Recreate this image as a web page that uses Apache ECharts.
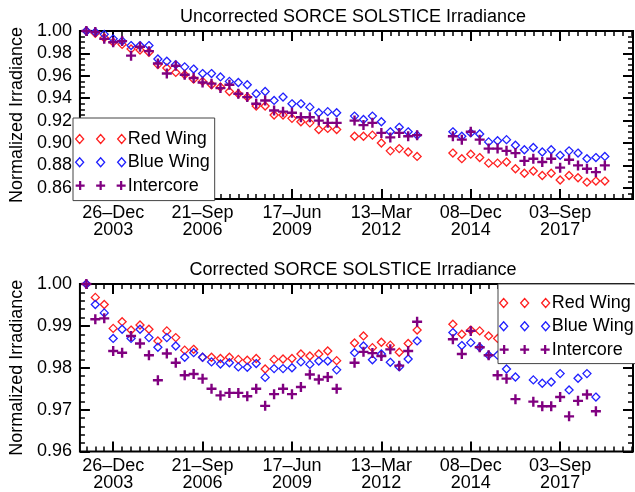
<!DOCTYPE html>
<html><head><meta charset="utf-8">
<script src="https://cdn.jsdelivr.net/npm/echarts@6/dist/echarts.min.js"></script>
<style>html,body{margin:0;padding:0;background:#fff}#c{width:635px;height:492px}</style>
</head><body><div id="c"></div>
<script>
// x values are Julian days minus 2450000
const tickDays = [3000, 4000, 5000, 6000, 7000, 8000];
const tickLabels = ['26\u2013Dec\n2003', '21\u2013Sep\n2006', '17\u2013Jun\n2009', '13\u2013Mar\n2012', '08\u2013Dec\n2014', '03\u2013Sep\n2017'];
const yTicksTop = [0.86, 0.88, 0.90, 0.92, 0.94, 0.96, 0.98, 1.00];
const yTicksBottom = [0.96, 0.97, 0.98, 0.99, 1.00];
const seriesNames = ['Red Wing', 'Blue Wing', 'Intercore'];

const topDays = [2700,2800,2900,3000,3100,3200,3300,3400,3500,3600,3700,3800,3900,4000,4100,4200,4300,4400,4500,4600,4700,4800,4900,5000,5100,5200,5300,5400,5500,
  5700,5800,5900,6000,6100,6200,6300,6400,
  6800,6900,7000,7100,7200,7300,7400,7500,7600,7700,7800,7900,8000,8100,8200,8300,8400,8500];
const topRed = [1.000,0.998,0.994,0.990,0.988,0.984,0.983,0.981,0.970,0.967,0.963,0.961,0.957,0.955,0.952,0.950,0.946,0.944,0.941,0.933,0.933,0.925,0.925,0.922,0.919,0.918,0.912,0.913,0.912,
  0.906,0.906,0.907,0.900,0.893,0.895,0.892,0.888,
  0.891,0.886,0.890,0.887,0.882,0.882,0.883,0.877,0.873,0.875,0.871,0.873,0.867,0.871,0.869,0.865,0.866,0.866];
const topBlue = [1.000,0.999,0.997,0.993,0.991,0.987,0.987,0.987,0.975,0.973,0.970,0.968,0.966,0.962,0.962,0.959,0.955,0.954,0.952,0.944,0.946,0.938,0.941,0.935,0.935,0.932,0.927,0.928,0.927,
  0.924,0.921,0.924,0.919,0.910,0.914,0.910,0.907,
  0.910,0.906,0.909,0.908,0.901,0.902,0.903,0.898,0.894,0.896,0.892,0.894,0.889,0.893,0.891,0.886,0.887,0.888];
const topIntercore = [1.000,0.999,0.993,0.990,0.991,0.978,0.986,0.982,0.971,0.962,0.969,0.961,0.958,0.954,0.953,0.949,0.952,0.944,0.941,0.935,0.938,0.929,0.928,0.927,0.923,0.923,0.920,0.918,0.918,
  0.920,0.916,0.918,0.909,0.905,0.909,0.906,0.907,
  0.906,0.903,0.910,0.903,0.895,0.895,0.893,0.891,0.884,0.886,0.883,0.886,0.878,0.885,0.880,0.877,0.874,0.880];

const bottomDays = [2700,2800,2900,3000,3100,3200,3300,3400,3500,3600,3700,3800,3900,4000,4100,4200,4300,4400,4500,4600,4700,4800,4900,5000,5100,5200,5300,5400,5500,
  5700,5800,5900,6000,6100,6200,6300,6400,
  6800,6900,7000,7100,7200,7300,7400,7500,
  7700,7800,7900,8000,8100,8200,8300,8400];
const bottomRed = [1.000,0.9968,0.9951,0.9894,0.9910,0.9890,0.9902,0.9892,0.9864,0.9888,0.9872,0.9842,0.9844,0.9825,0.9825,0.9822,0.9825,0.9820,0.9818,0.9822,0.9797,0.9820,0.9821,0.9822,0.9833,0.9828,0.9833,0.9840,0.9817,
  0.9859,0.9876,0.9848,0.9861,0.9854,0.9837,0.9858,0.9890,
  0.9904,0.9880,0.9890,0.9888,0.9876,0.9870,0.9862,0.9855,
  0.9850,0.9845,0.9848,0.9858,0.9836,0.9850,0.9858,0.9832];
const bottomBlue = [1.000,0.9951,0.9931,0.9870,0.9892,0.9870,0.9892,0.9872,0.9849,0.9872,0.9852,0.9825,0.9836,0.9825,0.9814,0.9809,0.9812,0.9802,0.9801,0.9810,0.9777,0.9798,0.9798,0.9800,0.9814,0.9808,0.9816,0.9816,0.9795,
  0.9836,0.9852,0.9819,0.9833,0.9813,0.9802,0.9821,0.9864,
  0.9884,0.9853,0.9860,0.9849,0.9830,0.9830,0.9797,0.9778,
  0.9771,0.9763,0.9766,0.9786,0.9747,0.9775,0.9786,0.9730];
const bottomIntercore = [1.000,0.9916,0.9918,0.9840,0.9836,0.9876,0.9858,0.9830,0.9770,0.9834,0.9812,0.9782,0.9785,0.9774,0.9750,0.9734,0.9740,0.9740,0.9732,0.9750,0.9709,0.9737,0.9750,0.9737,0.9754,0.9784,0.9772,0.9778,0.9750,
  0.9812,0.9838,0.9835,0.9828,0.9844,0.9805,0.9840,0.9910,
  0.9868,0.9833,0.9888,0.9849,0.9830,0.9782,0.9774,0.9725,
  0.9719,0.9708,0.9708,0.9730,0.9684,0.9721,0.9736,0.9696];

const FONT = '"Liberation Sans", Arial, Helvetica, sans-serif';
const RED = '#ff2020', BLUE = '#2020ff', PURPLE = '#800080';
const PLUS = 'path://M3.8,0H6.2V3.8H10V6.2H6.2V10H3.8V6.2H0V3.8H3.8Z';
const ICON_DIAMONDS = 'path://M0,4.5L4,0L8,4.5L4,9Z M21,4.5L25,0L29,4.5L25,9Z M42,4.5L46,0L50,4.5L46,9Z';
const ICON_PLUSES = 'path://M3.4,0H5.6V3.4H9V5.6H5.6V9H3.4V5.6H0V3.4H3.4Z M23.9,0H26.1V3.4H29.5V5.6H26.1V9H23.9V5.6H20.5V3.4H23.9Z M44.4,0H46.6V3.4H50V5.6H46.6V9H44.4V5.6H41V3.4H44.4Z';
const XMIN = 2628, XMAX = 8815;

function seq(a, b, s) { const r = []; const n = Math.round((b - a) / s); for (let k = 0; k <= n; k++) r.push(+(a + k * s).toFixed(4)); return r; }
const xMinor = seq(2700, 8800, 100);

const grids = [
  {left: 73, top: 31, width: 560, height: 168, show: true, borderColor: '#000', borderWidth: 2, backgroundColor: 'transparent'},
  {left: 73, top: 284, width: 560, height: 168, show: true, borderColor: '#000', borderWidth: 2, backgroundColor: 'transparent'}
];

function xAxes(g) {
  const base = {gridIndex: g, type: 'value', min: XMIN, max: XMAX, axisLine: {show: false}, splitLine: {show: false}};
  const major = {show: true, inside: true, length: 10, customValues: tickDays, lineStyle: {color: '#000', width: 2}};
  const minor = {show: true, inside: true, length: 5, customValues: xMinor, lineStyle: {color: '#000', width: 1.5}};
  return [
    Object.assign({}, base, {position: 'bottom', axisTick: major, axisLabel: {show: true, customValues: tickDays,
      formatter: v => tickLabels[Math.round((v - 3000) / 1000)], fontSize: 18, color: '#000', fontFamily: FONT, lineHeight: 17, margin: 6}}),
    Object.assign({}, base, {position: 'bottom', axisTick: minor, axisLabel: {show: false}}),
    Object.assign({}, base, {position: 'top', axisTick: major, axisLabel: {show: false}}),
    Object.assign({}, base, {position: 'top', axisTick: minor, axisLabel: {show: false}})
  ];
}
function yAxes(g, ymin, ymax, majors, minorStep) {
  const base = {gridIndex: g, type: 'value', min: ymin, max: ymax, axisLine: {show: false}, splitLine: {show: false}};
  const major = {show: true, inside: true, length: 10, customValues: majors, lineStyle: {color: '#000', width: 2}};
  const minor = {show: true, inside: true, length: 5, customValues: seq(ymin, ymax, minorStep), lineStyle: {color: '#000', width: 1.5}};
  return [
    Object.assign({}, base, {position: 'left', axisTick: major,
      name: 'Normalized Irradiance', nameLocation: 'middle', nameGap: 50,
      nameTextStyle: {fontSize: 18, color: '#000', fontFamily: FONT},
      axisLabel: {show: true, customValues: majors, formatter: v => v.toFixed(2), fontSize: 18, color: '#000', fontFamily: FONT, margin: 8}}),
    Object.assign({}, base, {position: 'left', axisTick: minor, axisLabel: {show: false}}),
    Object.assign({}, base, {position: 'right', axisTick: major, axisLabel: {show: false}}),
    Object.assign({}, base, {position: 'right', axisTick: minor, axisLabel: {show: false}})
  ];
}

function diamondSeries(name, days, vals, color, ax) {
  return {type: 'scatter', name, xAxisIndex: ax, yAxisIndex: ax, data: days.map((d, i) => [d, vals[i]]),
    symbol: 'diamond', symbolSize: [8, 8], itemStyle: {color: 'rgba(0,0,0,0)', borderColor: color, borderWidth: 1.3, opacity: 1},
    emphasis: {disabled: true}, silent: true, z: 2};
}
function plusSeries(name, days, vals, ax) {
  return {type: 'scatter', name, xAxisIndex: ax, yAxisIndex: ax, data: days.map((d, i) => [d, vals[i]]),
    symbol: PLUS, symbolSize: 10, itemStyle: {color: PURPLE, borderWidth: 0, opacity: 1},
    emphasis: {disabled: true}, silent: true, z: 3};
}

const legendData = [
  {name: seriesNames[0], icon: ICON_DIAMONDS, itemStyle: {color: 'rgba(0,0,0,0)', borderColor: RED, borderWidth: 1.3, opacity: 1}},
  {name: seriesNames[1], icon: ICON_DIAMONDS, itemStyle: {color: 'rgba(0,0,0,0)', borderColor: BLUE, borderWidth: 1.3, opacity: 1}},
  {name: seriesNames[2], icon: ICON_PLUSES, itemStyle: {color: PURPLE, borderWidth: 0, opacity: 1}}
];
function legend(left, top, pad) {
  return {left, top, orient: 'vertical', padding: pad, itemGap: 5.3, itemWidth: 50, itemHeight: 9,
    backgroundColor: '#fff', borderColor: '#444', borderWidth: 1, selectedMode: false, z: 10,
    textStyle: {fontSize: 18, color: '#000', fontFamily: FONT, lineHeight: 18, padding: [0, 0, 0, -3]},
    data: legendData};
}

const chart = echarts.init(document.getElementById('c'), null, {renderer: 'canvas'});
chart.setOption({
  animation: false,
  backgroundColor: '#fff',
  title: [
    {text: 'Uncorrected SORCE SOLSTICE Irradiance', left: 353, top: 8, textAlign: 'center', padding: 0,
      textStyle: {fontSize: 18, fontWeight: 'normal', color: '#000', fontFamily: FONT}},
    {text: 'Corrected SORCE SOLSTICE Irradiance', left: 353, top: 261, textAlign: 'center', padding: 0,
      textStyle: {fontSize: 18, fontWeight: 'normal', color: '#000', fontFamily: FONT}}
  ],
  grid: grids,
  xAxis: xAxes(0).concat(xAxes(1)),
  yAxis: yAxes(0, 0.85, 1.00, yTicksTop, 0.005).concat(yAxes(1, 0.96, 1.00, yTicksBottom, 0.002)),
  legend: [legend(73, 118, [12, 5, 6, 2]), legend(498, 284, [10, 5, 5, 1])],
  series: [
    diamondSeries(seriesNames[0], topDays, topRed, RED, 0),
    diamondSeries(seriesNames[1], topDays, topBlue, BLUE, 0),
    plusSeries(seriesNames[2], topDays, topIntercore, 0),
    diamondSeries(seriesNames[0], bottomDays, bottomRed, RED, 4),
    diamondSeries(seriesNames[1], bottomDays, bottomBlue, BLUE, 4),
    plusSeries(seriesNames[2], bottomDays, bottomIntercore, 4)
  ]
});
</script></body></html>
